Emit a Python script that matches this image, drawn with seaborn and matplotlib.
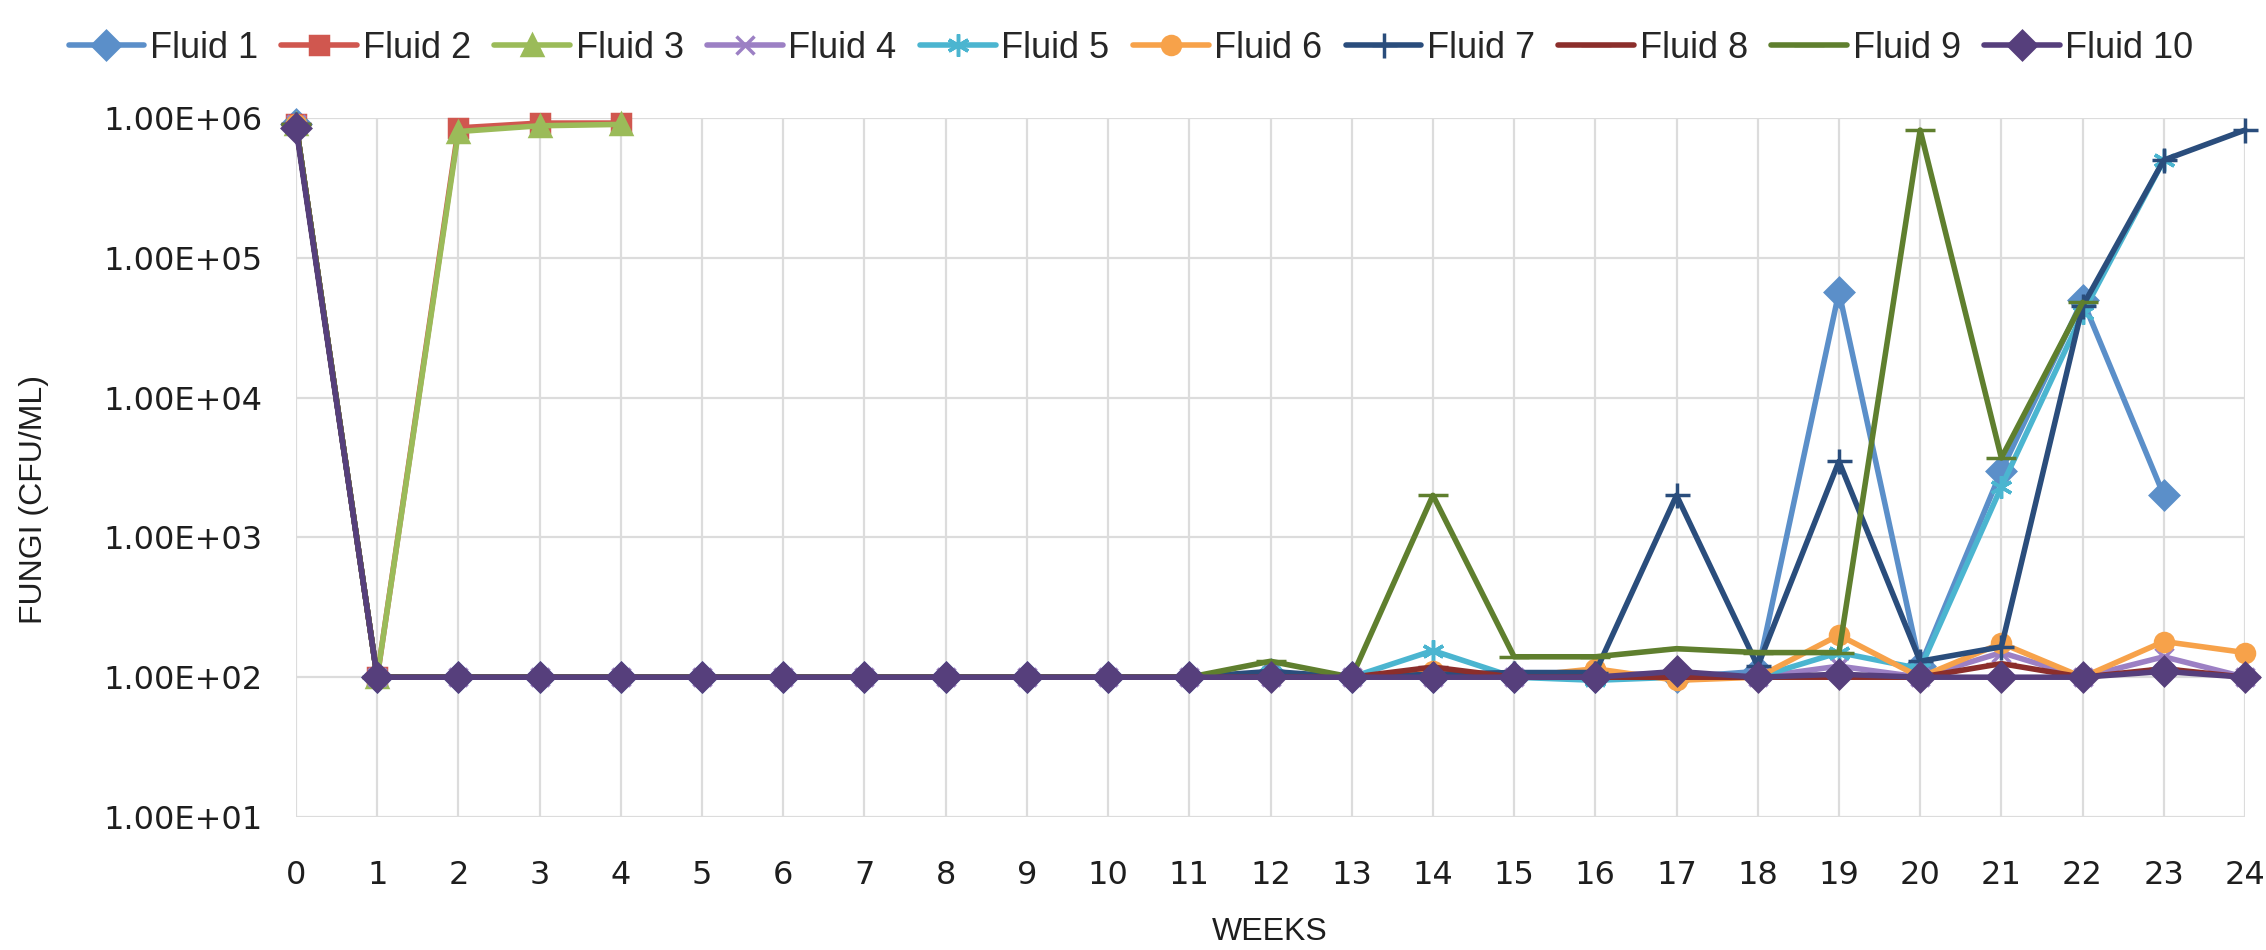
import numpy as np
import pandas as pd
import matplotlib
matplotlib.use("Agg")
import matplotlib.pyplot as plt
from matplotlib.ticker import FixedLocator, FuncFormatter, NullLocator
import seaborn as sns

nan = np.nan
weeks = list(range(25))
base = [100] * 11  # weeks 1-11

# fungi counts (cfu/ml), nan = no reading
fluid1 = [9e5] + base + [105, 100, 100, 100, 100, 100, 110, 5.7e4, 120, 3000, 5.0e4, 2000, nan]
fluid2 = [9e5, 100, 8.5e5, 9.2e5, 9.2e5] + [nan] * 20
fluid3 = [9e5, 100, 8.0e5, 8.8e5, 9.0e5] + [nan] * 20
fluid4 = [9e5] + base + [100, 100, 100, 100, 105, 105, 100, 120, 100, 150, 100, 140, 100]
fluid5 = [9e5] + base + [108, 100, 155, 100, 95, 100, 100, 150, 115, 2300, 4.0e4, 5.0e5, nan]
fluid6 = [9e5] + base + [100, 100, 110, 100, 115, 95, 100, 200, 100, 175, 100, 180, 150]
fluid7 = [9e5] + base + [110, 100, 105, 108, 108, 2000, 120, 3500, 130, 165, 4.5e4, 5.0e5, 8.2e5]
fluid8 = [9e5] + base + [100, 100, 118, 100, 100, 100, 100, 100, 100, 125, 100, 115, 100]
fluid9 = [9e5] + base + [130, 100, 2000, 140, 140, 160, 150, 150, 8.2e5, 3700, 4.8e4, nan, nan]
fluid10 = [8.5e5] + base + [100, 100, 100, 100, 100, 110, 100, 105, 100, 100, 100, 110, 100]

names = ["Fluid %d" % i for i in range(1, 11)]
series = [fluid1, fluid2, fluid3, fluid4, fluid5, fluid6, fluid7, fluid8, fluid9, fluid10]
colors = ["#5B8FC9", "#D0574F", "#9BBB59", "#9C80C4", "#4BB5D0",
          "#F7A24A", "#2A4D7C", "#8B2E2B", "#5F7F2E", "#563F7C"]
markers = ["D", "s", "^", "x", (6, 2, 0), "o", "+", "_", "_", "D"]
msizes = [14, 13, 14, 13, 16, 13, 18, 22, 22, 14]

sns.set_theme(style="white")
plt.rcParams["font.family"] = ["DejaVu Sans"]

fig = plt.figure(figsize=(22.66, 9.5), dpi=100)
ax = fig.add_axes([296 / 2266, 1 - 817 / 950, (2245 - 296) / 2266, (817 - 118) / 950])

for name, vals, c, m, ms in zip(names, series, colors, markers, msizes):
    df = pd.DataFrame({"week": weeks, "cfu": vals}).dropna()
    sns.lineplot(data=df, x="week", y="cfu", ax=ax, color=c, lw=4, marker=m,
                 markersize=ms, markeredgecolor=c, markeredgewidth=2.5,
                 label=name, clip_on=False, legend=False)

ax.set_yscale("log")
ax.set_ylim(10, 1e6)
ax.set_xlim(0, 24)
ax.xaxis.set_major_locator(FixedLocator(weeks))
ax.yaxis.set_major_locator(FixedLocator([1e1, 1e2, 1e3, 1e4, 1e5, 1e6]))
ax.yaxis.set_minor_locator(NullLocator())
ax.yaxis.set_major_formatter(FuncFormatter(lambda v, p: f"{v:.2E}"))
ax.grid(True, which="major", color="#DCDCDC", lw=1.6)
ax.set_axisbelow(True)
for s in ax.spines.values():
    s.set_visible(False)
ax.tick_params(axis="y", length=0, pad=24, labelsize=23, labelcolor="#1E1E1E")
ax.tick_params(axis="x", length=0, pad=31, labelsize=23, labelcolor="#1E1E1E")
ax.set_xlabel("")
ax.set_ylabel("")

lab_font = ["Liberation Sans", "DejaVu Sans"]
fig.text(34 / 2266, 1 - 500 / 950, "FUNGI (CFU/ML)", rotation=90, ha="center", va="center",
         fontsize=23, color="#1E1E1E", family=lab_font)
fig.text(1270 / 2266, 1 - 932 / 950, "WEEKS", ha="center", va="center",
         fontsize=23, color="#1E1E1E", family=lab_font)

handles, labels = ax.get_legend_handles_labels()
fig.legend(handles, labels, loc="center", bbox_to_anchor=(1131 / 2266, 1 - 48 / 950),
           ncol=10, frameon=False, handlelength=2.1, handletextpad=0.15,
           columnspacing=0.65, prop={"family": lab_font, "size": 26})

fig.savefig("out.png", dpi=100)
